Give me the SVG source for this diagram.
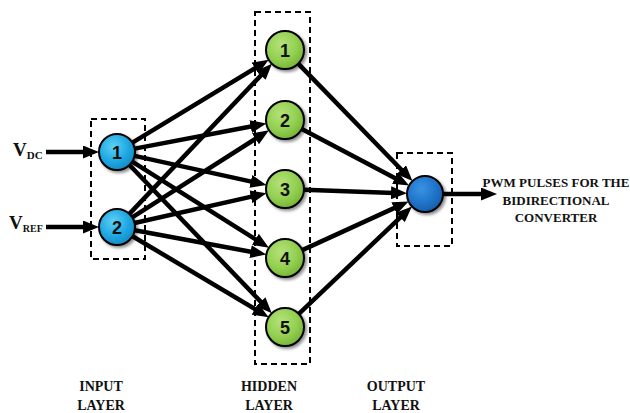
<svg xmlns="http://www.w3.org/2000/svg" width="630" height="413" viewBox="0 0 630 413">
<defs>
<radialGradient id="gBlue" cx="0.4" cy="0.35" r="0.7">
<stop offset="0" stop-color="#5cd0f5"/>
<stop offset="0.6" stop-color="#1ea7e1"/>
<stop offset="1" stop-color="#1387bf"/>
</radialGradient>
<radialGradient id="gGreen" cx="0.4" cy="0.35" r="0.7">
<stop offset="0" stop-color="#b5e27a"/>
<stop offset="0.6" stop-color="#92cf50"/>
<stop offset="1" stop-color="#74b233"/>
</radialGradient>
<radialGradient id="gOut" cx="0.4" cy="0.35" r="0.7">
<stop offset="0" stop-color="#3a93e3"/>
<stop offset="0.6" stop-color="#1f73c8"/>
<stop offset="1" stop-color="#155ca6"/>
</radialGradient>
<filter id="sh" x="-30%" y="-30%" width="170%" height="170%">
<feGaussianBlur in="SourceAlpha" stdDeviation="1.5"/>
<feOffset dx="1.5" dy="2" result="b"/>
<feComponentTransfer><feFuncA type="linear" slope="0.45"/></feComponentTransfer>
<feMerge><feMergeNode/><feMergeNode in="SourceGraphic"/></feMerge>
</filter>
<marker id="ah" markerUnits="userSpaceOnUse" markerWidth="16" markerHeight="13" viewBox="0 0 16 13" refX="3" refY="6.5" orient="auto">
<path d="M0,0 L16,6.5 L0,13 z" fill="#000"/>
</marker>
</defs>
<style>
.box{fill:none;stroke:#000;stroke-width:2;stroke-dasharray:6,4}
.edge{stroke:#000;stroke-width:4.5;fill:none;marker-end:url(#ah)}
.nb{stroke:#000;stroke-width:2;fill:url(#gBlue);filter:url(#sh)}
.ng{stroke:#000;stroke-width:2;fill:url(#gGreen);filter:url(#sh)}
.no{stroke:#000;stroke-width:2;fill:url(#gOut);filter:url(#sh)}
.num{font-family:"Liberation Sans",Arial,sans-serif;font-weight:bold;font-size:18px;fill:#111;text-anchor:middle}
.lbl{font-family:"Liberation Serif","Times New Roman",serif;font-weight:bold;fill:#111}
.lay{font-size:14px;text-anchor:middle}
.pwm{font-size:13px;text-anchor:middle}
</style>
<g id="boxes">
<rect class="box" x="91" y="119" width="54" height="140"/>
<rect class="box" x="255" y="12" width="55" height="352"/>
<rect class="box" x="397" y="153" width="55" height="93"/>
</g>
<g id="connectors">
<line class="edge" x1="46" y1="152" x2="86" y2="152"/>
<line class="edge" x1="46" y1="227" x2="86" y2="227"/>
<line class="edge" x1="132.4" y1="142.7" x2="257.6" y2="66.6"/>
<line class="edge" x1="134.7" y1="148.6" x2="253.6" y2="126.0"/>
<line class="edge" x1="134.6" y1="155.9" x2="253.7" y2="182.1"/>
<line class="edge" x1="132.2" y1="161.6" x2="257.9" y2="240.9"/>
<line class="edge" x1="129.5" y1="165.0" x2="262.8" y2="303.9"/>
<line class="edge" x1="129.4" y1="213.9" x2="263.0" y2="73.2"/>
<line class="edge" x1="132.2" y1="217.3" x2="258.0" y2="137.2"/>
<line class="edge" x1="134.6" y1="223.0" x2="253.8" y2="196.1"/>
<line class="edge" x1="134.7" y1="230.3" x2="253.5" y2="252.2"/>
<line class="edge" x1="132.5" y1="236.2" x2="257.5" y2="310.6"/>
<line class="edge" x1="298.2" y1="63.6" x2="403.4" y2="171.8"/>
<line class="edge" x1="301.8" y1="128.9" x2="397.6" y2="179.5"/>
<line class="edge" x1="304.0" y1="189.7" x2="394.0" y2="192.9"/>
<line class="edge" x1="302.3" y1="250.1" x2="396.8" y2="206.9"/>
<line class="edge" x1="298.8" y1="313.9" x2="402.5" y2="215.4"/>
<line class="edge" x1="443" y1="194" x2="484" y2="194"/>
</g>
<g id="in1"><circle class="nb" cx="117" cy="152" r="18"/><text class="num" x="117" y="158.5">1</text></g>
<g id="in2"><circle class="nb" cx="117" cy="227" r="18"/><text class="num" x="117" y="233.5">2</text></g>
<g id="h1"><circle class="ng" cx="285" cy="50" r="19"/><text class="num" x="285" y="56.5">1</text></g>
<g id="h2"><circle class="ng" cx="285" cy="120" r="19"/><text class="num" x="285" y="126.5">2</text></g>
<g id="h3"><circle class="ng" cx="285" cy="189" r="19"/><text class="num" x="285" y="195.5">3</text></g>
<g id="h4"><circle class="ng" cx="285" cy="258" r="19"/><text class="num" x="285" y="264.5">4</text></g>
<g id="h5"><circle class="ng" cx="285" cy="327" r="19"/><text class="num" x="285" y="333.5">5</text></g>
<g id="out"><circle class="no" cx="425" cy="194" r="18"/></g>
<g id="labels">
<text class="lbl" x="13" y="156" font-size="19">V<tspan font-size="11" dy="3">DC</tspan></text>
<text class="lbl" x="9" y="229" font-size="19">V<tspan font-size="10" dy="3">REF</tspan></text>
<text class="lbl pwm" x="556" y="187">PWM PULSES FOR THE</text>
<text class="lbl pwm" x="556" y="205">BIDIRECTIONAL</text>
<text class="lbl pwm" x="556" y="222">CONVERTER</text>
<text class="lbl lay" x="101" y="391">INPUT</text>
<text class="lbl lay" x="101" y="410">LAYER</text>
<text class="lbl lay" x="269" y="391">HIDDEN</text>
<text class="lbl lay" x="269" y="410">LAYER</text>
<text class="lbl lay" x="396" y="391">OUTPUT</text>
<text class="lbl lay" x="396" y="410">LAYER</text>
</g>
</svg>
